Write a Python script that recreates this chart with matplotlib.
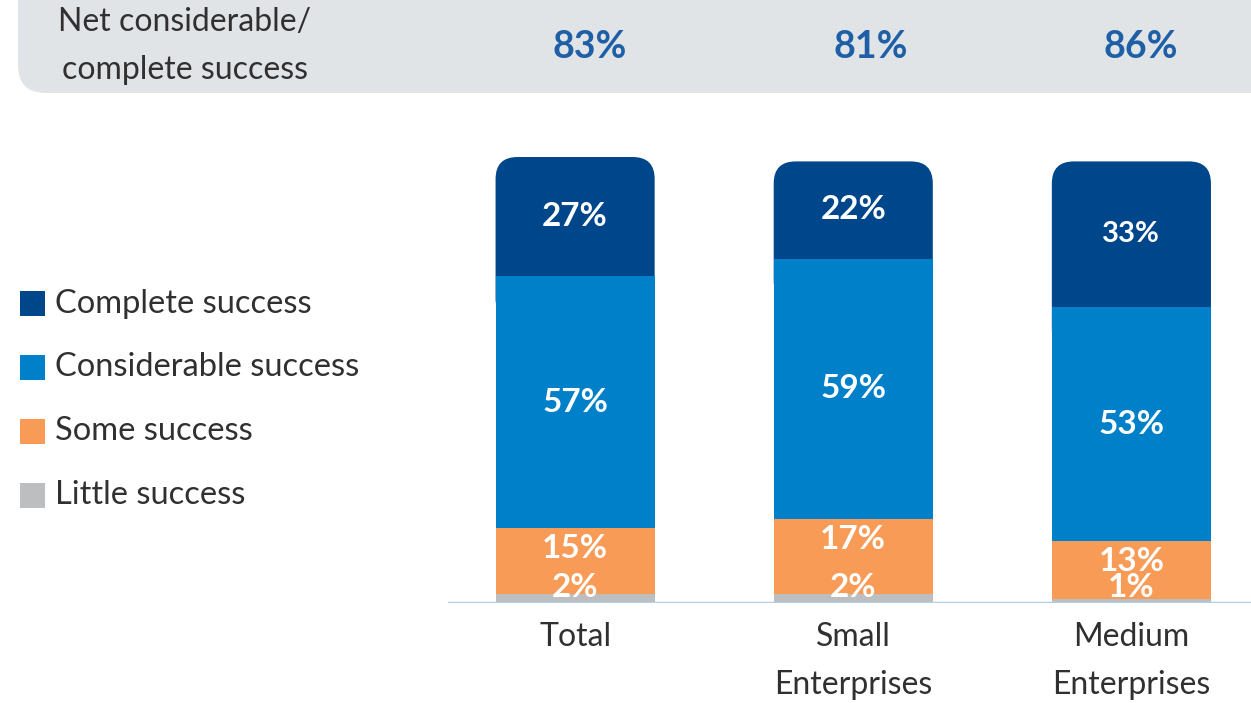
import matplotlib.pyplot as plt
from matplotlib.patches import FancyBboxPatch, Rectangle

plt.rcParams['font.family'] = ['Lato', 'DejaVu Sans']

categories = ["Total", "Small\nEnterprises", "Medium\nEnterprises"]
series = ["Little success", "Some success", "Considerable success", "Complete success"]
little = [2, 2, 1]
some = [15, 17, 13]
considerable = [57, 59, 53]
complete = [27, 22, 33]
net = ["83%", "81%", "86%"]

colors = ["#BCBEC0", "#F79B57", "#0080C8", "#00468A"]
txt = "#303030"
W, H = 1251, 703

fig = plt.figure(figsize=(W / 100, H / 100), dpi=100)

# grey banner across the top
banner = FancyBboxPatch((18 / W, (H - 93) / H), 1.2, 0.3,
                        boxstyle="round,pad=0,rounding_size=%f" % (28 / W),
                        mutation_aspect=W / H, transform=fig.transFigure,
                        facecolor="#E1E4E7", edgecolor="none", zorder=0)
fig.patches.append(banner)
fig.text(185 / W, 1 - 46 / H, "Net considerable/\ncomplete success", ha="center",
         va="center", fontsize=23, color=txt, linespacing=1.75)

# bar axes
ax = fig.add_axes([448 / W, 100 / H, 803 / W, 483 / H])
x = [0, 1, 2]
ax.set_xlim(-0.457, 2.43)
ymax = 101 * 483 / 446
ax.set_ylim(0, ymax)
width = 0.572

stack = [little, some, considerable, complete]
bottoms = [0, 0, 0]
for k, vals in enumerate(stack):
    if k < 3:
        ax.bar(x, vals, width, bottom=bottoms, color=colors[k], zorder=3)
    else:
        # top segment with rounded upper corners
        px_x = 803 / 2.887
        px_y = 483 / ymax
        r = 22 / px_x
        for i in range(3):
            p = FancyBboxPatch((x[i] - width / 2, bottoms[i] - 10), width, vals[i] + 10,
                               boxstyle="round,pad=0,rounding_size=%f" % r,
                               mutation_aspect=px_x / px_y,
                               facecolor=colors[k], edgecolor="none", zorder=2)
            ax.add_patch(p)
    for i in range(3):
        if k == 0:
            yl = 3.4
        elif k == 1:
            yl = bottoms[i] + vals[i] - 4.6
        else:
            yl = bottoms[i] + vals[i] / 2
        size = 21 if vals[i] == 33 else 24
        ax.text(x[i], yl, f"{vals[i]}%", ha="center", va="center", color="white",
                fontsize=size, fontweight="bold", zorder=5)
    bottoms = [b + v for b, v in zip(bottoms, vals)]

ax.axhline(0, color="#B3CFE8", lw=2.5, zorder=4)
for s in ax.spines.values():
    s.set_visible(False)
ax.set_xticks([])
ax.set_yticks([])
ax.patch.set_alpha(0)

net_x = [590, 871, 1141]
for i, c in enumerate(categories):
    ax.text(x[i], -4.4, c, ha="center", va="top", fontsize=23, color=txt,
            linespacing=1.75)
    fig.text(net_x[i] / W, 1 - 47 / H, net[i], ha="center", va="center",
             fontsize=27, fontweight="bold", color="#1E5FA5")

# legend
ys = [304, 367, 431, 495]
for j, k in enumerate([3, 2, 1, 0]):
    fig.patches.append(Rectangle((20 / W, 1 - (ys[j] + 12.5) / H), 25 / W, 25 / H,
                                 transform=fig.transFigure, facecolor=colors[k],
                                 edgecolor="none"))
    fig.text(55 / W, 1 - ys[j] / H, series[k], ha="left", va="center", fontsize=23.5,
             color=txt)

fig.savefig("out.png", dpi=100)
